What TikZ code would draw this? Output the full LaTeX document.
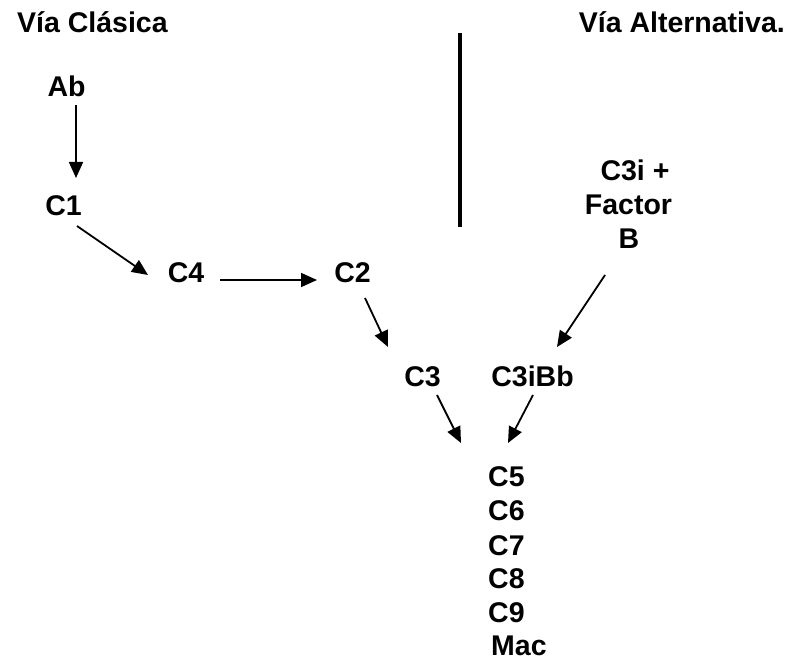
\documentclass[tikz,border=0pt]{standalone}
\usepackage{fontspec}
\setmainfont{Liberation Sans}
\usetikzlibrary{arrows.meta,calc}
\begin{document}
\begin{tikzpicture}[x=1pt,y=-1pt,
  lbl/.style={inner sep=0pt,anchor=base,font=\fontsize{28.5}{34}\selectfont\bfseries},
  arr/.style={line width=1.8pt,-{Triangle[length=16pt,width=14pt]}}]
\useasboundingbox (0,0) rectangle (788,660);

% headings
\node[lbl,anchor=base west] (clasica) at (17,33) {Vía Clásica};
\node[lbl,anchor=base east] (alterna) at (785,33) {Vía Alternativa.};

% separator
\draw[line width=4.3pt] (460,33) -- (460,227);

% classical pathway
\node[lbl] (Ab) at (66.5,97) {Ab};
\node[lbl] (C1) at (63.5,216) {C1};
\node[lbl] (C4) at (186,283) {C4};
\node[lbl] (C2) at (352.5,283) {C2};
\node[lbl] (C3) at (422.5,387) {C3};

% alternative pathway
\node[lbl] (C3i) at (635,181) {C3i +};
\node[lbl] (factor) at (628.5,215) {Factor};
\node[lbl] (B) at (629,249) {B};
\node[lbl] (C3iBb) at (532.5,387) {C3iBb};

% terminal components
\node[lbl,anchor=base west] (C5) at (488,487) {C5};
\node[lbl,anchor=base west] (C6) at (488,521) {C6};
\node[lbl,anchor=base west] (C7) at (488,555) {C7};
\node[lbl,anchor=base west] (C8) at (488,588) {C8};
\node[lbl,anchor=base west] (C9) at (488,622) {C9};
\node[lbl,anchor=base west] (Mac) at (491,655.5) {Mac};

% connectors
\draw[arr] ($(Ab.base)+(9.5,8)$) -- ($(C1.base)+(12.5,-38)$);
\draw[arr] ($(C1.base)+(13.5,10)$) -- ($(C4.base)+(-38,-8)$);
\draw[arr] ($(C4.base)+(34,-3)$) -- ($(C2.base)+(-35.5,-3)$);
\draw[arr] ($(C2.base)+(12.5,15)$) -- ($(C3.base)+(-34.5,-40)$);
\draw[arr] ($(B.base)+(-24,26)$) -- ($(C3iBb.base)+(24.5,-40)$);
\draw[arr] ($(C3.base)+(14.5,8)$) -- ($(C5.base west)+(-27,-44)$);
\draw[arr] ($(C3iBb.base)+(0.5,8)$) -- ($(C5.base west)+(20,-44)$);
\end{tikzpicture}
\end{document}
